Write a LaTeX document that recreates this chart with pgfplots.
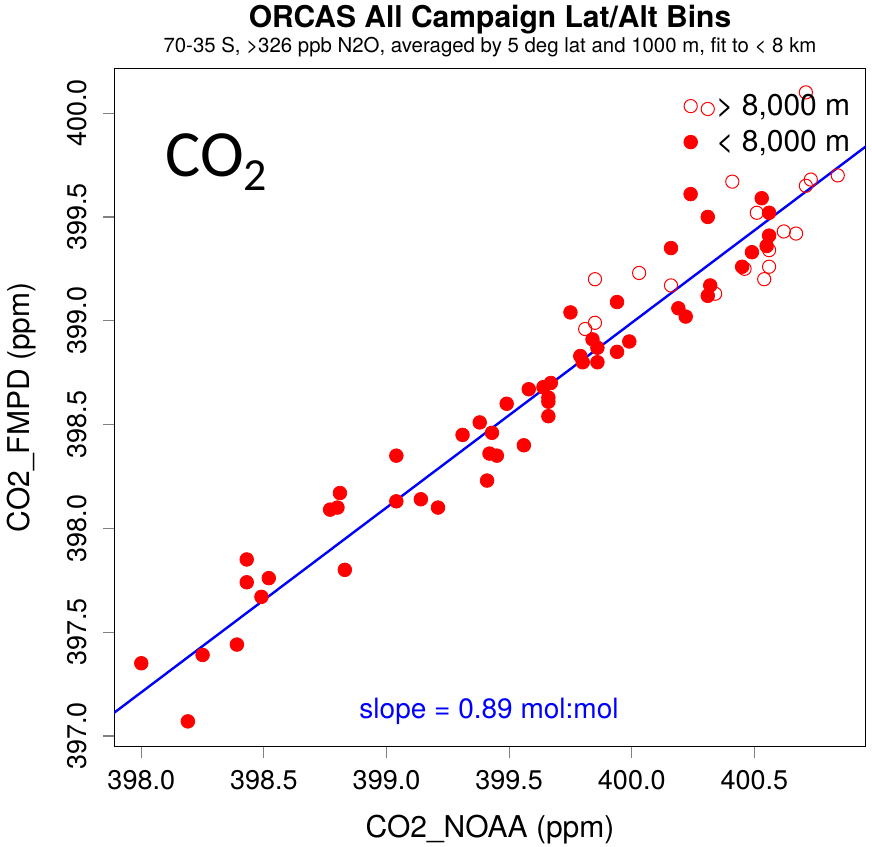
\documentclass[border=0pt]{standalone}
\usepackage{fontspec}
\setmainfont{TeX Gyre Heros}
\newfontfamily\cofont{Carlito}
\usepackage{pgfplots}
\usepackage{pgfplotstable}
\pgfplotsset{compat=1.18}

\pgfplotstableread{
x y
398.00 397.35
398.19 397.07
398.25 397.39
398.39 397.44
398.43 397.85
398.43 397.74
398.52 397.76
398.49 397.67
398.83 397.80
399.80 398.80
399.86 398.80
399.58 398.67
399.64 398.68
399.67 398.70
399.66 398.63
399.66 398.61
399.66 398.54
399.49 398.60
399.38 398.51
399.43 398.46
399.31 398.45
399.56 398.40
399.42 398.36
399.45 398.35
399.04 398.35
399.41 398.23
398.81 398.17
398.77 398.09
398.80 398.10
399.04 398.13
399.14 398.14
399.21 398.10
400.24 399.61
400.31 399.50
400.16 399.35
400.53 399.59
400.56 399.52
400.56 399.41
400.55 399.36
400.49 399.33
400.45 399.26
399.94 399.09
399.75 399.04
400.32 399.17
400.31 399.12
400.19 399.06
400.22 399.02
399.99 398.90
399.84 398.91
399.86 398.87
399.94 398.85
399.79 398.83
}\lowdata

\pgfplotstableread{
x y
400.31 400.02
400.71 400.10
400.41 399.67
400.71 399.65
400.73 399.68
400.84 399.70
400.51 399.52
400.62 399.43
400.67 399.42
400.56 399.34
400.46 399.25
400.56 399.26
400.54 399.20
400.03 399.23
399.85 399.20
400.16 399.17
400.34 399.13
399.81 398.96
399.85 398.99
}\highdata

\begin{document}
\begin{tikzpicture}
\begin{axis}[
  name=ax,
  scale only axis,
  width=375.7pt, height=339.2pt,
  xmin=397.89, xmax=400.954,
  ymin=396.948, ymax=400.216,
  xtick={398,398.5,399,399.5,400,400.5},
  ytick={397,397.5,398,398.5,399,399.5,400},
  scaled ticks=false,
  xtick pos=bottom, ytick pos=left,
  tick align=outside,
  major tick length=5.5pt,
  tick style={gray, line width=0.6pt},
  axis line style={black, line width=0.6pt},
  /pgf/number format/fixed,
  /pgf/number format/fixed zerofill,
  /pgf/number format/precision=1,
  /pgf/number format/1000 sep={},
  /pgf/number format/assume math mode=true,
  tick label style={font=\fontsize{13.5}{16}\selectfont},
  xticklabel style={yshift=-6pt, anchor=north, inner sep=0pt},
  yticklabel style={xshift=-8pt, rotate=90, anchor=south, inner sep=0pt},
  label style={font=\fontsize{15}{18}\selectfont},
  xlabel={CO2\_NOAA (ppm)},
  ylabel={CO2\_FMPD (ppm)},
  xlabel style={at={(axis description cs:0.5,-0.1215)}, anchor=center},
  ylabel style={at={(axis description cs:-0.1228,0.5)}, anchor=center},
  legend style={draw=none, fill=none, at={(axis description cs:0.7575,0.9627)}, anchor=north west,
    font=\fontsize{15}{18}\selectfont, inner sep=0pt, row sep=5.85pt,
    nodes={inner sep=0pt}},
  legend cell align=left,
  legend image code/.code={\draw[#1] plot coordinates {(0pt,0pt)}; \path[draw=none,fill=none] (-3.4pt,0pt) -- (12.65pt,0pt);},
]
\addplot[only marks, mark=o, red, mark size=3.3pt, line width=0.5pt] table[x=x,y=y] {\highdata};
\addlegendentry{> 8,000 m}
\addplot[only marks, mark=*, red, fill=red, mark size=3.4pt] table[x=x,y=y] {\lowdata};
\addlegendentry{< 8,000 m}
\addplot[blue, line width=1.2pt, forget plot] coordinates {(397.5,396.765) (401.5,400.325)};
\node[blue, font=\fontsize{14}{17}\selectfont] at (rel axis cs:0.4987,0.0526) {slope = 0.89 mol:mol};
\node[anchor=base west, inner sep=0pt, font=\cofont\fontsize{33}{38}\selectfont] at (rel axis cs:0.0675,0.841) {CO{\fontsize{23}{26}\selectfont\raisebox{-7pt}{2}}};
\end{axis}
\node[anchor=base, font=\bfseries\fontsize{15}{18}\selectfont] at ([yshift=20.15pt]ax.north) {ORCAS All Campaign Lat/Alt Bins};
\node[anchor=base, font=\fontsize{10.2}{12}\selectfont] at ([yshift=7.65pt]ax.north) {70-35 S, >326 ppb N2O, averaged by 5 deg lat and 1000 m, fit to < 8 km};
\pgfresetboundingbox
\path[use as bounding box] ([xshift=-57.15pt,yshift=-49.65pt]ax.south west) rectangle ([xshift=3.15pt,yshift=34.15pt]ax.north east);
\end{tikzpicture}
\end{document}
